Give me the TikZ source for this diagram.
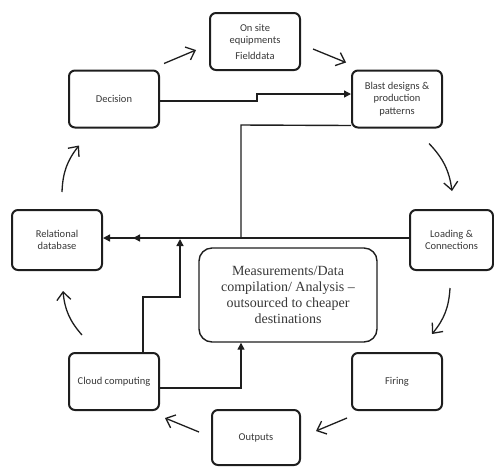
\documentclass[tikz,border=0pt]{standalone}
\usepackage{fontspec}
\setmainfont{Carlito}
\newfontfamily\measfont[Ligatures=TeX]{Liberation Serif}
\definecolor{InkColor}{RGB}{30,30,30}
\definecolor{TextColor}{RGB}{55,55,55}
\usetikzlibrary{positioning, arrows.meta, calc}

\begin{document}
\begin{tikzpicture}[x=1pt,y=-1pt,
    box/.style={draw=InkColor, line width=2pt, rounded corners=6pt, minimum width=90pt,
      minimum height=57pt, align=center, text=TextColor, inner sep=1pt,
      font=\fontsize{10.5}{12.5}\selectfont},
    measbox/.style={draw=InkColor, line width=1.4pt, rounded corners=13pt, minimum width=178pt,
      minimum height=94pt, align=center, text=TextColor,
      font=\measfont\fontsize{14}{16}\selectfont},
    cyc/.style={draw=InkColor, line width=1.3pt, -{Straight Barb[length=8pt,width=14pt]}},
    link/.style={draw=InkColor, line width=1.4pt, -{Triangle[length=7pt,width=7pt]}}]
  \useasboundingbox (0,0) rectangle (494,467);

  % boxes of the cycle
  \node[box] (site) at (255,41.5) {On site\\equipments\\[3pt]Fielddata};
  \node[box] (dec) at (114,99) {Decision};
  \node[box] (blast) at (397,99) {Blast designs \&\\production\\patterns};
  \node[box, minimum height=60pt] (rel) at (57,240) {Relational\\database};
  \node[box, minimum width=83pt, minimum height=60pt] (load) at (451.5,240) {Loading \&\\Connections};
  \node[box] (cloud) at (114,381.5) {Cloud computing};
  \node[box] (fire) at (397,381.5) {Firing};
  \node[box, minimum width=88pt, minimum height=55pt] (out) at (256,437.5) {Outputs};
  \node[measbox] (meas) at (288,295) {Measurements/Data\\compilation/ Analysis \textendash\\outsourced to cheaper\\destinations};

  % cycle arrows
  \draw[cyc] ($(dec.north east)+(4,-6)$) -- ($(site.west)+(-13,8.5)$);
  \draw[cyc] ($(site.east)+(12,7.5)$) -- ($(blast.north west)+(-5,-7)$);
  \draw[cyc] ($(blast.south)+(32,15)$) to[bend left=18] ($(load.north)+(0.5,-18)$);
  \draw[cyc] ($(load.south)+(-1.5,17)$) to[bend left=18] ($(fire.north)+(35,-18)$);
  \draw[cyc] ($(fire.south west)+(-4,7)$) -- ($(out.east)+(15,-6.5)$);
  \draw[cyc] ($(out.west)+(-12,-5.5)$) -- ($(cloud.south east)+(5,7)$);
  \draw[cyc] ($(cloud.north)+(-32,-17)$) to[bend left=18] ($(rel.south)+(6,20)$);
  \draw[cyc] ($(rel.north)+(5,-17)$) to[bend left=18] ($(dec.south)+(-35,17)$);

  % data links
  \draw[link] ([yshift=-2pt]dec.east) -- (257,101) -- (257,94) -- ([yshift=5pt]blast.west);
  \draw[link] ([yshift=2pt]load.west) -- ([yshift=2pt]rel.east);
  \draw[link] ([yshift=3pt]blast.south west) -- (241,125) -- (241,238) -- (133,238);
  \draw[link] ([xshift=29pt]cloud.north) -- (143,297) -- (180,297) -- (180,239);
  \draw[link] ([yshift=-6.5pt]cloud.east) -| ([xshift=-47pt]meas.south);
\end{tikzpicture}
\end{document}
